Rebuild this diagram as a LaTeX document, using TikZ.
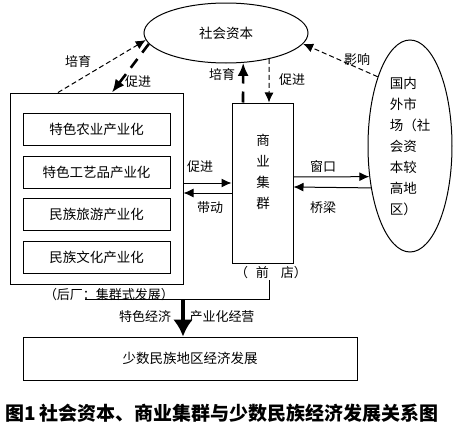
\documentclass[tikz,border=0pt]{standalone}
\usepackage{fontspec}
\setmainfont{Noto Sans CJK SC}
\usepackage{tikz}
\usetikzlibrary{positioning,shapes.geometric,arrows.meta}

\begin{document}
\begin{tikzpicture}[
    x=1pt, y=-1pt,
    base/.style={rectangle, draw, line width=1pt, inner sep=0pt,
                 align=center, font=\fontsize{13.5}{16}\selectfont},
    Bouter/.style={base, minimum width=173pt, minimum height=191pt},
    Binner/.style={base, minimum width=147pt, minimum height=32pt},
    Bmid/.style=  {base, minimum width=61pt,  minimum height=160pt},
    Bfazhan/.style={base, minimum width=334pt, minimum height=43pt},
    Boval/.style={ellipse, draw, line width=1pt, inner sep=0pt,
                  font=\fontsize{13.5}{21}\selectfont},
    lbl/.style={font=\fontsize{13}{15}\selectfont, inner sep=1pt},
    arr/.style={-{Latex[length=10pt,width=9pt]}, line width=1pt},
    darr/.style={arr, dash pattern=on 5pt off 3pt},
    tarr/.style={-{Latex[length=13pt,width=11pt]}, line width=2.6pt,
                 dash pattern=on 11pt off 8pt},
    barr/.style={-{Latex[length=17pt,width=20pt]}, line width=3.8pt},
]
\useasboundingbox (0,0) rectangle (456,434);

\node[Boval, minimum width=164pt, minimum height=60pt] (shehui) at (226,33) {社会资本};

\node[Bouter] (chanye) at (96.5,188.5) {};
\node[Binner] (nongye) at (96.5,129)   {特色农业产业化};
\node[Binner] (gongyi) at (96.5,172)   {特色工艺品产业化};
\node[Binner] (lvyou)  at (96.5,214.5) {民族旅游产业化};
\node[Binner] (wenhua) at (96.5,257)   {民族文化产业化};

\node[Bmid] (jiqun) at (262.5,183) {};
\node[lbl, align=center, font=\fontsize{13.5}{21}\selectfont] (jiqunText)
    at (263,171.5) {商\\业\\集\\群};

\node[Boval, minimum width=84pt, minimum height=212pt, align=left] (shichang)
    at (410,146) {国内\\外市\\场（社\\会资\\本较\\高地\\区）};

\node[Bfazhan] (fazhan) at (190,358.5) {少数民族地区经济发展};

\node[lbl] (peiyuA)    at (78,62)   {培育};
\node[lbl] (cujinA)    at (138,82)  {促进};
\node[lbl] (peiyuB)    at (222,75)  {培育};
\node[lbl] (cujinB)    at (292,80)  {促进};
\node[lbl] (yingxiang) at (357,60)  {影响};
\node[lbl] (cujinC)    at (200,167) {促进};
\node[lbl] (daidong)   at (210,208) {带动};
\node[lbl] (chuangkou) at (323,167) {窗口};
\node[lbl] (qiaoliang) at (323,208) {桥梁};
\node[lbl] (qiandian)  at (271,273) {（\hspace{8pt}前\hspace{12pt}店）};
\node[lbl] (houchang)  at (109,295) {（后厂：集群式发展）};
\node[lbl] (tese)      at (145,317) {特色经济};
\node[lbl] (chanyehua) at (222,317) {产业化经营};

\node[font=\bfseries\fontsize{19}{22}\selectfont, inner sep=0pt] (caption)
    at (222,413) {图1\ 社会资本、商业集群与少数民族经济发展关系图};

\coordinate (zhuanjiao) at (269,299);
\coordinate (xianduan)  at (85,299);

\draw[arr] ([yshift=5.5pt]chanye.east) -- (jiqun.west);
\draw[arr] ([yshift=-10pt]jiqun.west) -- ([yshift=-4.5pt]chanye.east);
\draw[arr] ([yshift=6pt]jiqun.east) -- (shichang.217);
\draw[arr] (shichang.227) -- ([yshift=-4pt]jiqun.east);

\draw[darr] ([xshift=-38.5pt]chanye.north) -- (shehui.185);
\draw[tarr] (shehui.188) -- ([xshift=15.5pt]chanye.north);
\draw[tarr] ([xshift=-19.5pt]jiqun.north) -- (shehui.300);
\draw[darr] (shehui.329) -- ([xshift=6.5pt]jiqun.north);
\draw[darr] (shichang.115) -- (shehui.352);

\draw[line width=1pt] (zhuanjiao |- qiandian.south) -- (zhuanjiao) -- (xianduan);
\draw[barr] ([xshift=-7pt]fazhan.north |- zhuanjiao) -- ([xshift=-7pt]fazhan.north);
\end{tikzpicture}
\end{document}
